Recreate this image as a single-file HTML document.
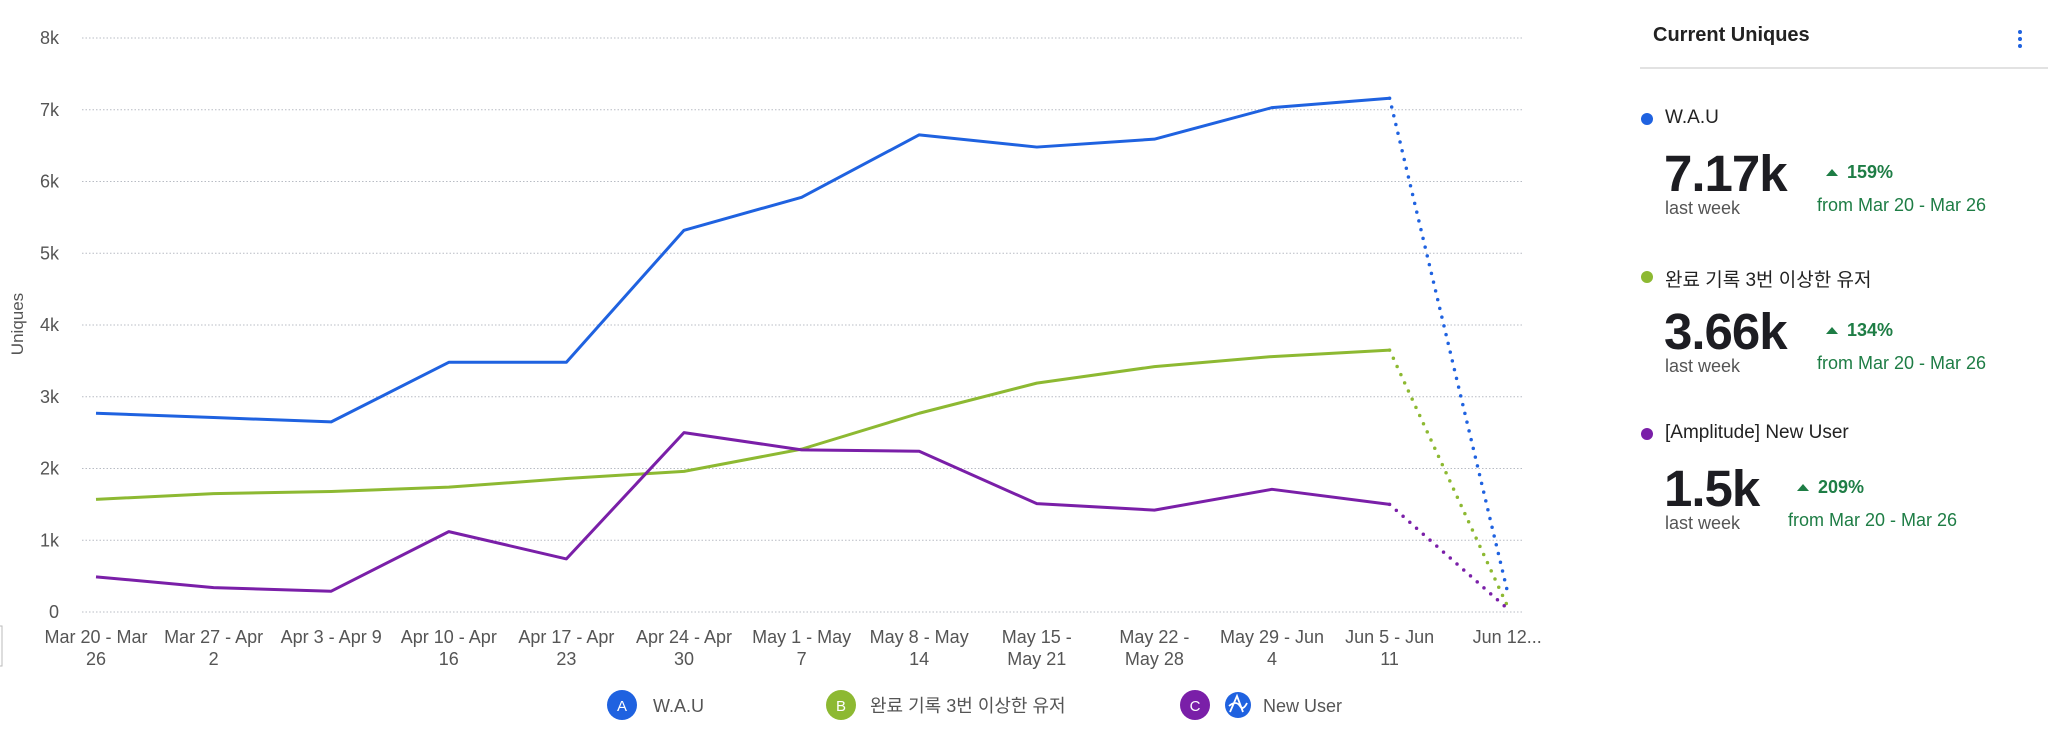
<!DOCTYPE html>
<html><head><meta charset="utf-8">
<style>
html,body{margin:0;padding:0;background:#fff;width:2048px;height:741px;overflow:hidden}
body{font-family:"Liberation Sans","Noto Sans CJK KR",sans-serif;position:relative}
svg{position:absolute;left:0;top:0}
</style></head>
<body>
<svg id="chart" width="2048" height="741" viewBox="0 0 2048 741" font-family="Liberation Sans, Noto Sans CJK KR, sans-serif">
  <g id="grid"></g>
  <g id="yticks"></g>
  <g id="xticks"></g>
  <g id="series"></g>
  <text transform="translate(23,324) rotate(-90)" text-anchor="middle" font-size="17" fill="#555">Uniques</text>
  <rect x="-2" y="626" width="4" height="40" fill="none" stroke="#bbb"/>
  <g>
    <g>
      <circle cx="622" cy="705" r="15" fill="#1f62e0"/>
      <text x="622" y="711" text-anchor="middle" font-size="15" fill="#fff">A</text>
      <text x="653" y="712" font-size="18" fill="#555">W.A.U</text>
    </g>
    <g>
      <circle cx="841" cy="705" r="15" fill="#8db932"/>
      <text x="841" y="711" text-anchor="middle" font-size="15" fill="#fff">B</text>
      <text x="870" y="712" font-size="18" fill="#555">완료 기록 3번 이상한 유저</text>
    </g>
    <g>
      <circle cx="1195" cy="705" r="15" fill="#7a1fa8"/>
      <text x="1195" y="711" text-anchor="middle" font-size="15" fill="#fff">C</text>
      <circle cx="1238" cy="705" r="13" fill="#1f62e0"/>
      <path d="M1230 712 L1237 696 L1243 712 M1229 706 Q1236 700 1240 706 Q1243 711 1247 703" stroke="#fff" stroke-width="1.8" fill="none"/>
      <text x="1263" y="712" font-size="18" fill="#555">New User</text>
    </g>
  </g>
</svg>

<div style="position:absolute;left:1640px;top:0;width:408px;height:741px">
  <div style="position:absolute;left:13px;top:24px;font-size:20px;font-weight:bold;color:#222">Current Uniques</div>
  <div style="position:absolute;left:378px;top:30px;width:6px;height:18px">
    <div style="width:4px;height:4px;border-radius:50%;background:#1f62e0;margin:0 0 3px 0"></div>
    <div style="width:4px;height:4px;border-radius:50%;background:#1f62e0;margin:0 0 3px 0"></div>
    <div style="width:4px;height:4px;border-radius:50%;background:#1f62e0"></div>
  </div>
  <div style="position:absolute;left:0;top:67px;width:408px;height:2px;background:#e2e2e2"></div>
</div>
<div id="cards"></div>

<script>
const categories = ["Mar 20 - Mar|26","Mar 27 - Apr|2","Apr 3 - Apr 9","Apr 10 - Apr|16","Apr 17 - Apr|23","Apr 24 - Apr|30","May 1 - May|7","May 8 - May|14","May 15 -|May 21","May 22 -|May 28","May 29 - Jun|4","Jun 5 - Jun|11","Jun 12..."];
const yTicks = [0,1000,2000,3000,4000,5000,6000,7000,8000];
const yTickLabels = ["0","1k","2k","3k","4k","5k","6k","7k","8k"];
const wauValues = [2770,2710,2650,3480,3480,5320,5780,6650,6480,6590,7030,7160,300];
const completedValues = [1570,1650,1680,1740,1860,1960,2270,2770,3190,3420,3560,3650,90];
const newUserValues = [490,340,290,1120,740,2500,2260,2240,1510,1420,1710,1500,50];
const seriesNames = ["wau","completed-3plus","new-user"];
const seriesColors = ["#1f62e0","#8db932","#7a1fa8"];

const X0=96, XSTEP=117.6, Y0=612, YTOP=38, YMAX=8000;
function xScale(i){return X0+XSTEP*i;}
function yScale(v){return Y0-(Y0-YTOP)*v/YMAX;}
const NS="http://www.w3.org/2000/svg";
function mk(tag,attrs,parent){const e=document.createElementNS(NS,tag);for(const k in attrs)e.setAttribute(k,attrs[k]);parent.appendChild(e);return e;}

const grid=document.getElementById('grid'), yt=document.getElementById('yticks'), xt=document.getElementById('xticks'), sg=document.getElementById('series');
yTicks.forEach((v,i)=>{
  const y=yScale(v);
  const l=mk('line',{x1:82,x2:1523,y1:y,y2:y,stroke:'#b8bcc4','stroke-width':1,'stroke-dasharray':'1.5 2'},grid);
  
  
  const t=mk('text',{x:59,y:y+6,'text-anchor':'end','font-size':18,fill:'#555'},yt);
  t.textContent=yTickLabels[i];
  
  
});
categories.forEach((c,i)=>{
  const parts=c.split('|');
  const t=mk('text',{x:xScale(i),y:643,'text-anchor':'middle','font-size':18,fill:'#555'},xt);
  
  
  parts.forEach((p,j)=>{const s=mk('tspan',{x:xScale(i),dy:j?22:0},t);s.textContent=p;});
});
[wauValues,completedValues,newUserValues].forEach((vals,si)=>{
  const n=vals.length;
  let d='';
  for(let i=0;i<n-1;i++) d+=(i?'L':'M')+xScale(i)+' '+yScale(vals[i]);
  const p=mk('path',{d:d,fill:'none',stroke:seriesColors[si],'stroke-width':3,'stroke-linejoin':'round'},sg);
  
  
  const q=mk('path',{d:'M'+xScale(n-2)+' '+yScale(vals[n-2])+'L'+xScale(n-1)+' '+yScale(vals[n-1]),fill:'none',stroke:seriesColors[si],'stroke-width':3.5,'stroke-dasharray':'0 9','stroke-linecap':'round'},sg);
  
  
});

const cardLabels=["W.A.U","완료 기록 3번 이상한 유저","[Amplitude] New User"];
const cardValues=["7.17k","3.66k","1.5k"];
const cardPct=["159%","134%","209%"];
const cards=document.getElementById('cards');
cardLabels.forEach((lab,i)=>{
  const top=i*157.5;
  const pctX = i===2 ? 1803 : 1832;
  const fromX = i===2 ? 1788 : 1817;
  const d=document.createElement('div');
  
  
  d.innerHTML=
   '<div style="position:absolute;left:1641px;top:'+(113+top)+'px;width:12px;height:12px;border-radius:50%;background:'+seriesColors[i]+'"></div>'+
   '<div style="position:absolute;left:1665px;top:'+(107+top)+'px;font-size:19px;color:#222;white-space:nowrap">'+lab+'</div>'+
   '<div style="position:absolute;left:1664px;top:'+(148+top)+'px;font-size:51px;font-weight:bold;color:#1d1d22;line-height:51px;letter-spacing:-1px">'+cardValues[i]+'</div>'+
   '<div style="position:absolute;left:1665px;top:'+(198+top)+'px;font-size:18px;color:#555">last week</div>'+
   '<div style="position:absolute;left:'+(pctX-6)+'px;top:'+(169+top)+'px;width:0;height:0;border-left:6px solid transparent;border-right:6px solid transparent;border-bottom:7px solid #1e7d45"></div>'+
   '<div style="position:absolute;left:'+(pctX+15)+'px;top:'+(162+top)+'px;font-size:18px;font-weight:bold;color:#1e7d45">'+cardPct[i]+'</div>'+
   '<div style="position:absolute;left:'+fromX+'px;top:'+(195+top)+'px;font-size:18px;color:#1e7d45;white-space:nowrap">from Mar 20 - Mar 26</div>';
  cards.appendChild(d);
});
</script>
</body></html>
